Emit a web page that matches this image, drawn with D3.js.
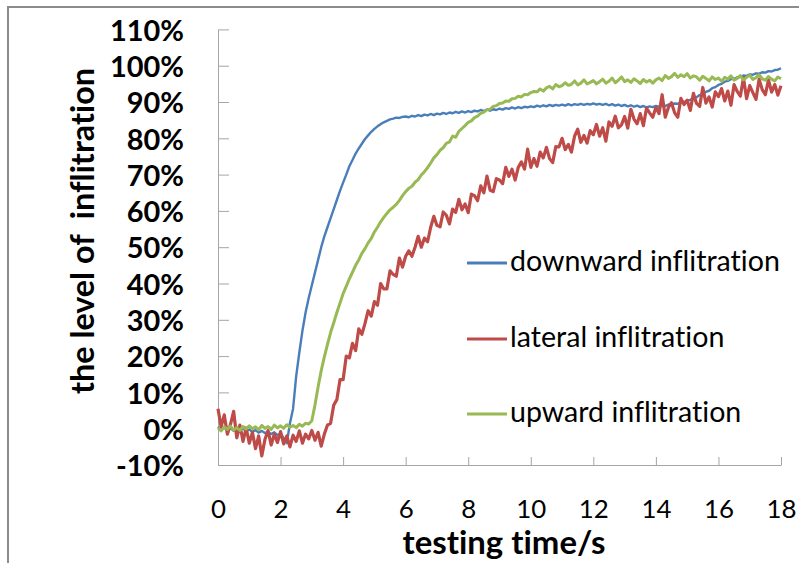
<!DOCTYPE html>
<html>
<head>
<meta charset="utf-8">
<script src="https://cdn.jsdelivr.net/npm/d3@7"></script>
<style>
  body { margin: 0; background: #fff; }
  svg { display: block; }
  text { font-family: Lato, "Open Sans", sans-serif; fill: #000; font-variant-ligatures: none; }
</style>
</head>
<body>
<div id="chart"></div>
<script>
'use strict'

const timeStep = 0.1

const downward = [
  0.5, -0.3, 0.4, -0.5, 0.2, -0.6, 0.3, -0.4, 0.1, -0.7,
  -0.2, -0.9, -0.4, -1.1, -0.6, -1.2, -0.8, -1.5, -1.0, -1.8,
  -1.3, -2.6, -4.0, 1.5, 5.5, 14.5, 21, 27, 32, 36,
  39.5, 43, 46.5, 50, 53, 55.5, 58, 60.5, 63, 65.5,
  67.8, 70, 72.3, 74, 75.8, 77.2, 78.5, 79.8, 80.8, 81.8,
  82.6, 83.3, 83.9, 84.4, 84.8, 85.2, 85.4, 85.7, 85.6, 85.9,
  86.0, 85.8, 86.2, 86.0, 86.4, 86.1, 86.5, 86.3, 86.7, 86.4,
  86.8, 86.6, 87.0, 86.7, 87.1, 86.9, 87.3, 87.0, 87.4, 87.1,
  87.5, 87.2, 87.6, 87.4, 87.8, 87.5, 87.9, 87.6, 88.0, 87.8,
  88.2, 87.9, 88.3, 88.1, 88.5, 88.2, 88.6, 88.3, 88.7, 88.5,
  88.8, 88.6, 89.0, 88.7, 89.1, 88.8, 89.2, 88.9, 89.2, 89.0,
  89.3, 89.0, 89.4, 89.1, 89.4, 89.2, 89.5, 89.2, 89.5, 89.3,
  89.6, 89.3, 89.5, 89.2, 89.5, 89.1, 89.4, 89.0, 89.3, 88.9,
  89.2, 88.8, 89.1, 88.7, 89.0, 88.6, 88.9, 88.5, 88.8, 88.6,
  88.9, 88.7, 89.1, 88.9, 89.3, 89.2, 89.6, 89.5, 89.9, 90.0,
  90.4, 90.6, 91.1, 91.3, 91.9, 92.2, 92.8, 93.1, 93.8, 94.1,
  94.7, 95.0, 95.6, 95.8, 96.3, 96.4, 96.8, 96.9, 97.3, 97.2,
  97.6, 97.5, 97.9, 97.8, 98.2, 98.1, 98.5, 98.4, 98.8, 98.9,
  99.3
]

const lateral = [
  5.5, 0.5, 3.8, -1.5, 1.2, 4.8, -2.5, 1.0, -3.5, 0.2,
  -4.0, -1.0, -5.5, -2.0, -7.5, -3.0, -0.5, -4.5, -1.5, -3.8,
  -0.8, -4.2, -2.0, -5.0, -1.8, -3.5, -0.6, -4.0, -1.5, -2.8,
  -0.5, -3.2, -1.0, -4.8, -1.5, 1.0, 1.5, 6.5, 8.0, 13.5,
  13.5, 20.0, 19.5, 23.5, 21.5, 27.5, 26.0, 29.0, 32.5, 31.0,
  35.0, 34.0, 40.0, 38.5, 38.5, 43.5, 42.5, 42.0, 47.0, 44.5,
  47.5, 49.0, 47.5, 50.0, 53.0, 50.0, 52.5, 51.5, 55.5, 58.5,
  56.0, 55.6, 59.7, 58.8, 56.4, 60.5, 59.6, 63.2, 60.3, 61.9,
  59.5, 64.6, 64.2, 62.8, 66.9, 65.0, 69.6, 65.7, 65.3, 68.9,
  68.5, 67.5, 72.0, 69.5, 71.5, 68.5, 72.0, 73.5, 71.5, 77.0,
  72.0, 74.4, 72.3, 76.2, 74.6, 77.5, 74.4, 73.3, 77.7, 77.6,
  80.0, 76.9, 78.3, 76.2, 80.6, 82.5, 78.9, 80.8, 78.7, 82.1,
  81.0, 83.8, 80.6, 82.9, 79.2, 84.5, 83.3, 86.1, 82.9, 83.7,
  86.0, 82.8, 88.0, 85.3, 84.0, 86.8, 83.5, 88.3, 87.0, 85.8,
  88.5, 86.8, 92.0, 85.8, 88.5, 89.8, 87.0, 85.8, 91.0, 89.3,
  90.5, 87.7, 92.4, 89.6, 88.8, 94.0, 89.7, 91.4, 88.6, 92.8,
  91.5, 93.7, 90.3, 93.0, 89.1, 94.8, 92.9, 91.6, 96.7, 90.9,
  94.5, 92.6, 90.7, 96.3, 93.4, 92.0, 96.1, 92.7, 94.8, 91.9,
  94.5
]

const upward = [
  0.2, -0.6, 0.5, -0.2, 0.7, -0.4, 0.3, -0.5, 0.6, -0.1,
  0.8, 0.0, 0.5, -0.3, 0.9, 0.1, 0.6, -0.2, 1.0, 0.2,
  0.8, 0.1, 1.1, 0.4, 0.9, 0.3, 1.2, 0.7, 1.5, 1.3,
  2.2, 6.5, 11.5, 16, 19.8, 23.2, 26.5, 29.2, 32, 34.6,
  37.2, 39.2, 41.3, 43.1, 45.0, 46.5, 48.3, 49.6, 51.2, 52.4,
  54.2, 55.5, 57.0, 58.2, 59.3, 60.3, 61.0, 61.8, 62.9, 64.2,
  65.3, 66.2, 66.8, 67.9, 68.6, 69.9, 70.8, 71.9, 73.2, 74.6,
  75.5, 76.7, 77.4, 78.6, 79.0, 80.6, 80.3, 81.9, 82.7, 83.5,
  84.4, 84.8, 85.7, 86.1, 86.9, 87.2, 87.9, 88.0, 88.8, 89.0,
  89.6, 89.7, 90.3, 90.2, 90.9, 91.0, 91.6, 91.4, 92.1, 92.0,
  92.6, 92.9, 92.8, 93.6, 93.0, 93.9, 94.3, 93.6, 94.8, 94.2,
  94.5, 95.3, 94.6, 94.9, 95.8, 94.7, 95.2, 96.1, 95.0, 95.4,
  95.9, 95.0, 95.6, 96.3, 95.2, 95.7, 96.6, 95.3, 96.0, 96.9,
  95.6, 96.1, 95.4, 96.4, 95.8, 95.1, 96.2, 95.5, 96.0, 95.2,
  96.1, 96.6, 95.9, 97.3, 96.5, 97.0, 97.9, 96.8, 97.5, 97.0,
  97.8, 96.6, 97.2, 96.9, 96.0, 97.1, 96.5, 95.8, 96.9, 96.2,
  96.6, 95.7, 96.8, 96.3, 97.2, 96.0, 96.5, 97.3, 96.1, 96.8,
  97.4, 96.2, 96.7, 97.5, 96.4, 96.0, 97.0, 96.3, 95.8, 96.9,
  96.4
]

const seriesNames = ['downward inflitration', 'lateral inflitration', 'upward inflitration']
const seriesColors = ['#4a7ebb', '#be4b48', '#98b954']
const xTicks = [0, 2, 4, 6, 8, 10, 12, 14, 16, 18]
const yTicks = [-10, 0, 10, 20, 30, 40, 50, 60, 70, 80, 90, 100, 110]

// ---------------- svg setup ----------------
const svgWidth = 799
const svgHeight = 563

const svg = d3.select('#chart').append('svg')
  .attr('width', svgWidth)
  .attr('height', svgHeight)

// frame of the chart area (left and top edges visible)
svg.append('path')
  .attr('d', `M8,${svgHeight} V7 H${svgWidth}`)
  .attr('fill', 'none')
  .attr('stroke', '#8c8c8c')
  .attr('stroke-width', 2)

// ---------------- scales ----------------
const x = d3.scaleLinear().domain([0, 18]).range([218, 781])
const y = d3.scaleLinear().domain([-10, 110]).range([465, 29.4])

// font size that makes a sample string a given width
function fitFont(weight, sample, target) {
  const probe = svg.append('text').attr('font-size', 100)
    .attr('font-weight', weight)
    .style('white-space', 'pre').text(sample)
  const w = probe.node().getComputedTextLength()
  probe.remove()
  return 100 * target / w
}

// ---------------- axes ----------------
const axisColor = '#a6a6a6'

const yAxis = svg.append('g')
  .attr('transform', `translate(${x(0)},0)`)
  .call(d3.axisLeft(y).tickValues(yTicks).tickSize(-11).tickSizeOuter(0)
    .tickPadding(34).tickFormat(d => d + '%'))
yAxis.select('.domain').attr('stroke', axisColor)
yAxis.selectAll('.tick line').attr('stroke', axisColor)

const xAxis = svg.append('g')
  .attr('transform', `translate(0,${y(-10)})`)
  .call(d3.axisBottom(x).tickValues(xTicks).tickSize(-8).tickSizeOuter(0))
xAxis.select('.domain').attr('stroke', axisColor)
xAxis.selectAll('.tick line').attr('stroke', axisColor)

yAxis.selectAll('.tick text')
  .attr('font-family', null)
  .attr('font-size', fitFont(700, '100%', 74))
  .attr('font-weight', 700)
  .attr('fill', '#000')
  .attr('dy', '0.37em')

xAxis.selectAll('.tick text')
  .attr('font-family', null)
  .attr('font-size', fitFont(400, '10', 30))
  .attr('fill', '#000')
  .attr('y', 53)
  .attr('dy', 0)

// axis titles
svg.append('text')
  .attr('x', 504)
  .attr('y', 554)
  .attr('text-anchor', 'middle')
  .attr('font-weight', 700)
  .attr('font-size', fitFont(700, 'testing time/s', 203))
  .text('testing time/s')

const yTitle = 'the level of  inflitration'
svg.append('text')
  .attr('transform', 'translate(94,231) rotate(-90)')
  .attr('text-anchor', 'middle')
  .attr('font-weight', 700)
  .attr('font-size', fitFont(700, yTitle, 326))
  .style('white-space', 'pre')
  .text(yTitle)

// ---------------- lines ----------------
const series = [downward, lateral, upward].map((vals, i) => ({
  name: seriesNames[i],
  color: seriesColors[i],
  width: [2.4, 3.2, 3.0][i],
  values: vals.map((v, j) => ({ t: j * timeStep, v: v }))
}))

const line = d3.line().x(d => x(d.t)).y(d => y(d.v))

svg.append('g').selectAll('path')
  .data(series)
  .enter()
  .append('path')
  .attr('d', d => line(d.values))
  .attr('fill', 'none')
  .attr('stroke', d => d.color)
  .attr('stroke-width', d => d.width)
  .attr('stroke-linejoin', 'round')

// ---------------- legend ----------------
const legendY = [263, 339, 414]
const legendSize = fitFont(400, seriesNames[0], 270)

const legend = svg.append('g').selectAll('g')
  .data(series)
  .enter()
  .append('g')
  .attr('transform', (d, i) => `translate(467,${legendY[i]})`)

legend.append('line')
  .attr('x1', 0).attr('x2', 40)
  .attr('stroke', d => d.color)
  .attr('stroke-width', 3)

legend.append('text')
  .attr('x', 43)
  .attr('y', 8)
  .attr('font-size', legendSize)
  .attr('fill', '#222')
  .text(d => d.name)
</script>
</body>
</html>
